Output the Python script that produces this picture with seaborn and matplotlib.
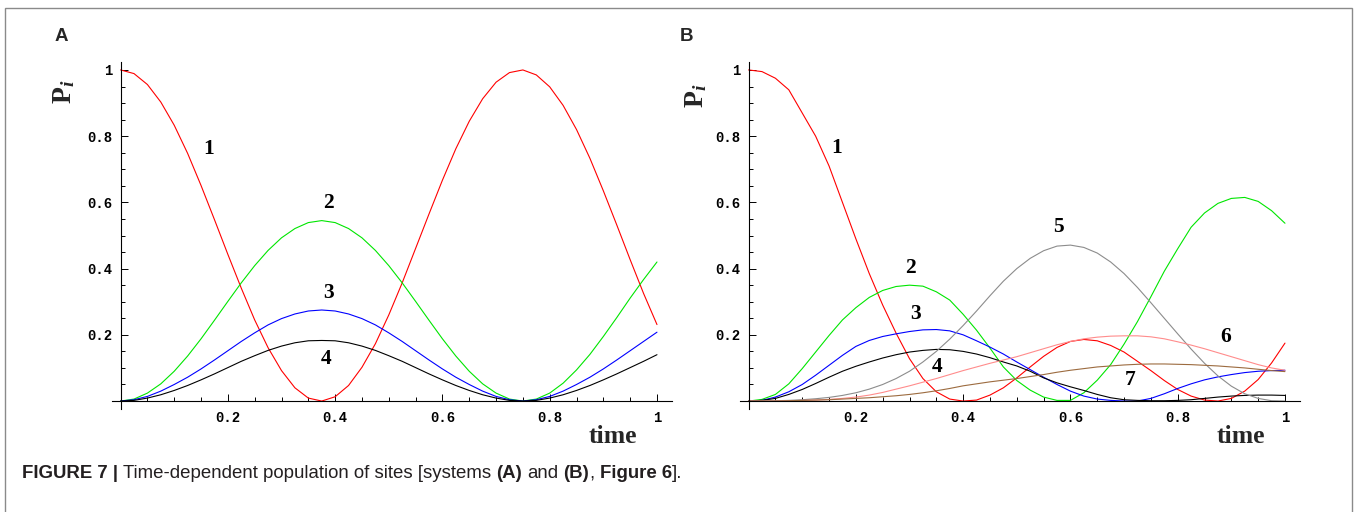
import numpy as np
import pandas as pd
import matplotlib
matplotlib.use("Agg")
import matplotlib.pyplot as plt
import seaborn as sns
from matplotlib import font_manager
from matplotlib.patches import Rectangle

# ---------------- data ----------------
TIME = np.round(np.arange(41) * 0.025, 3)

A_SITES = ["1", "2", "3", "4"]
A_RED = [1.000, 0.989, 0.956, 0.903, 0.833, 0.748, 0.651, 0.548, 0.443, 0.341, 0.245,
         0.161, 0.092, 0.040, 0.009, 0.000, 0.013, 0.047, 0.102, 0.173, 0.260, 0.357,
         0.461, 0.565, 0.667, 0.762, 0.845, 0.913, 0.963, 0.992, 1.000, 0.985, 0.949,
         0.893, 0.820, 0.733, 0.635, 0.532, 0.427, 0.325, 0.231]
A_GREEN = [0.000, 0.006, 0.024, 0.052, 0.090, 0.136, 0.188, 0.244, 0.301, 0.357, 0.409,
           0.455, 0.493, 0.521, 0.539, 0.545, 0.539, 0.521, 0.493, 0.455, 0.409, 0.357,
           0.301, 0.244, 0.188, 0.136, 0.090, 0.052, 0.024, 0.006, 0.000, 0.006, 0.024,
           0.054, 0.094, 0.141, 0.195, 0.252, 0.311, 0.367, 0.420]
A_BLUE = [0.000, 0.004, 0.014, 0.030, 0.050, 0.072, 0.097, 0.124, 0.152, 0.180, 0.206,
          0.230, 0.249, 0.263, 0.272, 0.275, 0.272, 0.263, 0.249, 0.230, 0.206, 0.180,
          0.152, 0.124, 0.097, 0.072, 0.050, 0.030, 0.014, 0.004, 0.000, 0.004, 0.014,
          0.030, 0.050, 0.072, 0.097, 0.124, 0.152, 0.180, 0.208]
A_BLACK = [0.000, 0.002, 0.009, 0.019, 0.032, 0.047, 0.064, 0.082, 0.101, 0.120, 0.137,
           0.153, 0.166, 0.176, 0.182, 0.183, 0.182, 0.176, 0.166, 0.153, 0.137, 0.120,
           0.101, 0.082, 0.064, 0.047, 0.032, 0.019, 0.009, 0.002, 0.000, 0.002, 0.009,
           0.019, 0.032, 0.047, 0.064, 0.082, 0.101, 0.120, 0.140]

B_SITES = ["1", "2", "3", "4", "5", "6", "7"]
B_RED = [1.000, 0.995, 0.975, 0.940, 0.870, 0.800, 0.710, 0.600, 0.490, 0.385, 0.290,
         0.205, 0.128, 0.068, 0.028, 0.006, 0.000, 0.003, 0.018, 0.040, 0.070, 0.103,
         0.135, 0.162, 0.180, 0.186, 0.182, 0.168, 0.148, 0.120, 0.092, 0.062, 0.035,
         0.015, 0.003, 0.000, 0.008, 0.030, 0.065, 0.115, 0.175]
B_GREEN = [0.000, 0.005, 0.020, 0.052, 0.098, 0.148, 0.198, 0.245, 0.282, 0.313, 0.334,
           0.346, 0.350, 0.347, 0.330, 0.305, 0.262, 0.214, 0.160, 0.103, 0.062, 0.033,
           0.012, 0.002, 0.002, 0.025, 0.063, 0.110, 0.172, 0.240, 0.315, 0.392, 0.460,
           0.525, 0.568, 0.597, 0.612, 0.615, 0.603, 0.575, 0.537]
B_BLUE = [0.000, 0.002, 0.012, 0.028, 0.050, 0.078, 0.108, 0.138, 0.165, 0.183, 0.195,
          0.203, 0.210, 0.215, 0.216, 0.212, 0.200, 0.182, 0.163, 0.142, 0.118, 0.095,
          0.072, 0.050, 0.030, 0.015, 0.006, 0.002, 0.000, 0.000, 0.008, 0.022, 0.038,
          0.052, 0.064, 0.073, 0.080, 0.086, 0.090, 0.092, 0.093]
B_BLACK = [0.000, 0.002, 0.008, 0.020, 0.035, 0.053, 0.072, 0.090, 0.105, 0.118, 0.130,
           0.140, 0.148, 0.153, 0.156, 0.155, 0.150, 0.142, 0.131, 0.118, 0.106, 0.090,
           0.070, 0.055, 0.043, 0.032, 0.020, 0.010, 0.004, 0.002, 0.001, 0.001, 0.002,
           0.004, 0.008, 0.012, 0.015, 0.017, 0.018, 0.018, 0.017]
B_GREY = [0.000, 0.000, 0.001, 0.002, 0.004, 0.007, 0.011, 0.017, 0.025, 0.036, 0.050,
          0.068, 0.090, 0.118, 0.150, 0.187, 0.228, 0.272, 0.318, 0.362, 0.400, 0.431,
          0.454, 0.468, 0.471, 0.464, 0.447, 0.420, 0.385, 0.343, 0.297, 0.250, 0.203,
          0.157, 0.114, 0.076, 0.045, 0.022, 0.008, 0.001, 0.000]
B_PINK = [0.000, 0.000, 0.000, 0.001, 0.002, 0.003, 0.005, 0.008, 0.012, 0.018, 0.026,
          0.036, 0.046, 0.057, 0.068, 0.080, 0.092, 0.103, 0.114, 0.124, 0.134, 0.146,
          0.158, 0.170, 0.180, 0.188, 0.193, 0.196, 0.197, 0.197, 0.194, 0.188, 0.179,
          0.169, 0.158, 0.146, 0.134, 0.122, 0.110, 0.100, 0.093]
B_BROWN = [0.000, 0.000, 0.000, 0.001, 0.002, 0.003, 0.004, 0.006, 0.008, 0.010, 0.013,
           0.016, 0.020, 0.025, 0.031, 0.038, 0.046, 0.052, 0.058, 0.063, 0.068, 0.074,
           0.080, 0.087, 0.093, 0.098, 0.103, 0.106, 0.109, 0.111, 0.112, 0.112, 0.111,
           0.110, 0.108, 0.106, 0.103, 0.100, 0.096, 0.092, 0.089]

X_MAJOR = [0.2, 0.4, 0.6, 0.8, 1.0]
X_LABELS = ["0.2", "0.4", "0.6", "0.8", "1"]
Y_MAJOR = [0.2, 0.4, 0.6, 0.8, 1.0]
Y_LABELS = ["0.2", "0.4", "0.6", "0.8", "1"]
MINOR = [0.05, 0.1, 0.15, 0.25, 0.3, 0.35, 0.45, 0.5, 0.55, 0.65, 0.7, 0.75, 0.85, 0.9, 0.95]

CAPTION = [("FIGURE 7 |", "bold"), ("Time-dependent population of sites [systems", "normal"),
           ("(A)", "bold"), ("and", "normal"), ("(B)", "bold"), (",", "normal"),
           ("Figure 6", "bold"), ("].", "normal")]
CAPTION_SPACE_AFTER = [True, True, True, True, False, True, False, False]

# ---------------- style ----------------
COLORS = {"1": "#FF0000", "2": "#00E600", "3": "#0000FF", "4": "#000000",
          "5": "#8C8C8C", "6": "#FF8C8C", "7": "#9C6B3F"}

sns.set_theme(style="white")
plt.rcParams["font.family"] = ["Liberation Serif", "DejaVu Serif"]
plt.rcParams["mathtext.fontset"] = "custom"
plt.rcParams["mathtext.rm"] = "Liberation Serif"
plt.rcParams["mathtext.bf"] = "Liberation Serif:bold"
plt.rcParams["mathtext.it"] = "Liberation Serif:italic:bold"

W, H = 1355, 512
fig = plt.figure(figsize=(W / 100, H / 100), dpi=100)
fig.patch.set_facecolor("white")


def px_rect(l, r, t, b):
    return [l / W, 1 - b / H, (r - l) / W, (b - t) / H]


XLIM = (-0.016, 1.028)
YLIM = (-0.024, 1.024)

axA = fig.add_axes(px_rect(112, 672, 62, 409))
axB = fig.add_axes(px_rect(740, 1300, 62, 409))


def long_df(sites, series):
    return pd.DataFrame({
        "t": np.tile(TIME, len(sites)),
        "P": np.concatenate([np.asarray(s, float) for s in series]),
        "site": np.repeat(sites, len(TIME)),
    })


dfA = long_df(A_SITES, [A_RED, A_GREEN, A_BLUE, A_BLACK])
dfB = long_df(B_SITES, [B_RED, B_GREEN, B_BLUE, B_BLACK, B_GREY, B_PINK, B_BROWN])

sns.lineplot(data=dfA, x="t", y="P", hue="site", palette=COLORS, estimator=None,
             legend=False, linewidth=0.8, ax=axA)
sns.lineplot(data=dfB, x="t", y="P", hue="site", palette=COLORS, estimator=None,
             legend=False, linewidth=0.8, ax=axB)


def style(ax):
    ax.set_xlim(*XLIM)
    ax.set_ylim(*YLIM)
    ax.set_xlabel("")
    ax.set_ylabel("")
    ax.patch.set_alpha(0)
    for s in ["top", "right"]:
        ax.spines[s].set_visible(False)
    ax.spines["left"].set_position(("data", 0))
    ax.spines["bottom"].set_position(("data", 0))
    for s in ["left", "bottom"]:
        ax.spines[s].set_color("black")
        ax.spines[s].set_linewidth(0.8)
    ax.set_xticks(X_MAJOR)
    ax.set_xticklabels(X_LABELS)
    ax.set_yticks(Y_MAJOR)
    ax.set_yticklabels(Y_LABELS)
    ax.set_xticks(MINOR, minor=True)
    ax.set_yticks(MINOR, minor=True)
    ax.tick_params(which="both", direction="in", color="black", width=0.7,
                   bottom=True, left=True, top=False, right=False, labelcolor="black")
    ax.tick_params(which="major", length=5)
    ax.tick_params(which="minor", length=3)
    ax.tick_params(axis="x", which="major", pad=7)
    ax.tick_params(axis="y", which="major", pad=6)
    for lab in ax.get_xticklabels() + ax.get_yticklabels():
        lab.set_fontfamily("Liberation Mono")
        lab.set_fontweight("bold")
        lab.set_fontsize(10)
    ax.grid(False)


style(axA)
style(axB)

LBL = dict(fontsize=15.5, fontweight="bold", family="Liberation Serif", ha="center",
           va="center", color="black")
for s, (tx, vy) in zip(A_SITES, [(0.165, 0.761), (0.388, 0.597), (0.388, 0.327), (0.383, 0.127)]):
    axA.text(tx, vy, s, **LBL)
for s, (tx, vy) in zip(B_SITES, [(0.165, 0.763), (0.302, 0.403), (0.312, 0.263), (0.352, 0.104),
                                 (0.578, 0.527), (0.889, 0.192), (0.712, 0.063)]):
    axB.text(tx, vy, s, **LBL)

for ax in (axA, axB):
    ax.text(0.917, -0.108, "time", fontsize=18.5, fontweight="bold", family="Liberation Serif",
            ha="center", va="center", clip_on=False)

for xp, yp in [(64, 92), (696, 96)]:
    fig.text(xp / W, 1 - yp / H, r"$\mathbf{P}_{\mathit{i}}$", fontsize=20, rotation=90,
             ha="center", va="center")

fig.text(55 / W, 1 - 40.7 / H, "A", fontsize=13.5, fontweight="bold", family="Liberation Sans",
         ha="left", va="baseline")
fig.text(680 / W, 1 - 40.7 / H, "B", fontsize=13.5, fontweight="bold", family="Liberation Sans",
         ha="left", va="baseline")

# outer frame
fig.add_artist(Rectangle((5 / W, -0.05), (1352 - 5) / W, 1.05 - 8 / H, fill=False,
                         edgecolor="#8a8a8a", linewidth=1.0, transform=fig.transFigure))

# caption with mixed weights
names = {f.name for f in font_manager.fontManager.ttflist}
cap_family = "Liberation Sans Narrow" if "Liberation Sans Narrow" in names else "Liberation Sans"
renderer = fig.canvas.get_renderer()


def tw(s, props):
    t = fig.text(0, 0, s, **props)
    w = t.get_window_extent(renderer).width
    t.remove()
    return w


def adv(s, props):
    return tw("|" + s + "|", props) - tw("||", props)


def total_width(size):
    tot = 0
    for (s, wgt), sp in zip(CAPTION, CAPTION_SPACE_AFTER):
        p = dict(family=cap_family, fontweight=wgt, fontsize=size)
        tot += adv(s, p)
        if sp:
            tot += adv(" ", dict(family=cap_family, fontweight="normal", fontsize=size))
    return tot


size = 10.0
size = size * 663.0 / total_width(size)
x = 22.0
for (s, wgt), sp in zip(CAPTION, CAPTION_SPACE_AFTER):
    p = dict(family=cap_family, fontweight=wgt, fontsize=size, color="#231f20")
    fig.text(x / W, 1 - 478.5 / H, s, ha="left", va="baseline", **p)
    x += adv(s, p)
    if sp:
        x += adv(" ", dict(family=cap_family, fontweight="normal", fontsize=size))

fig.savefig("out.png", dpi=100, facecolor="white")
